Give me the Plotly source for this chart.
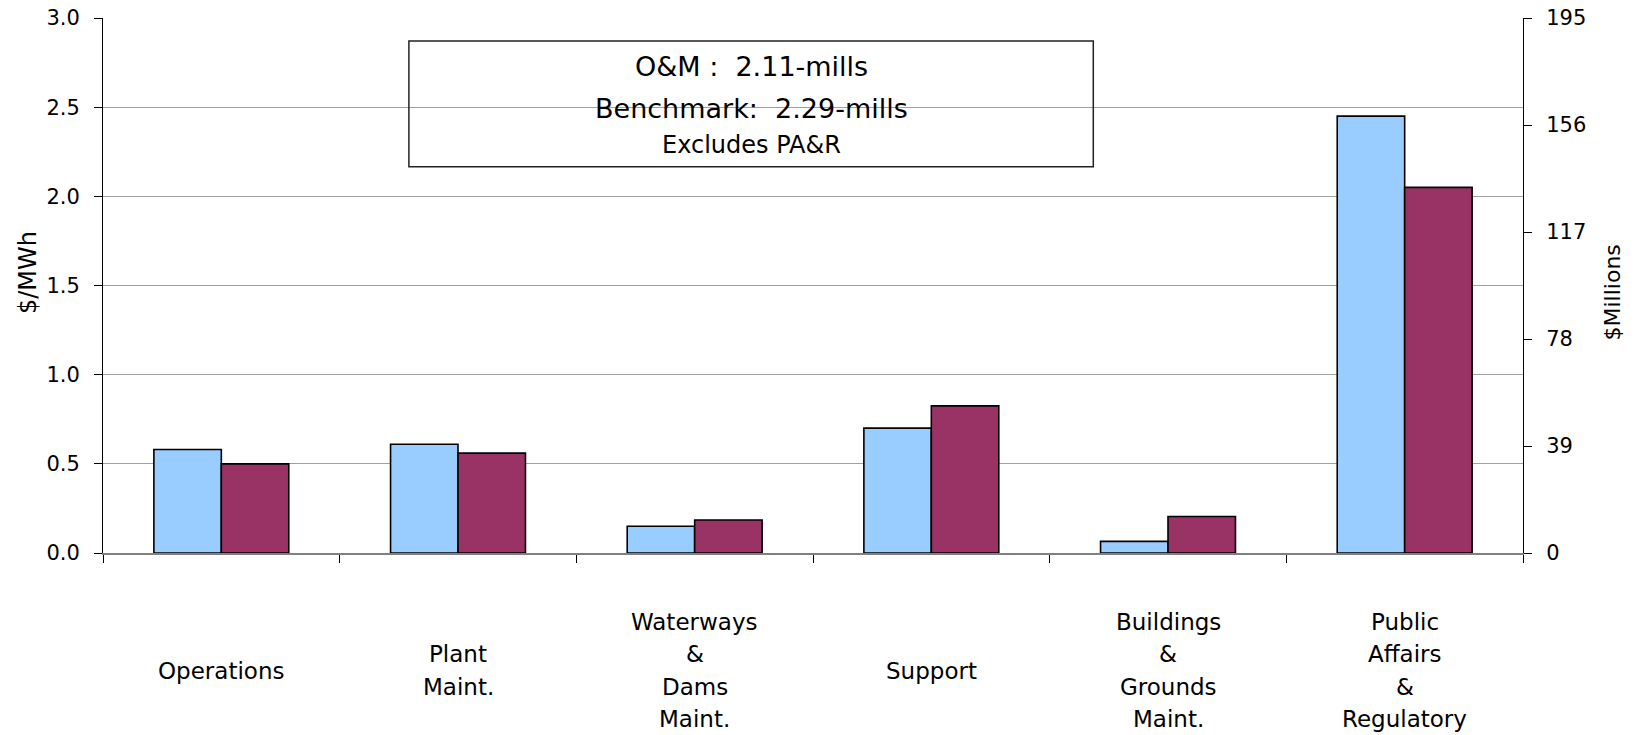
import plotly.graph_objects as go

# ---- data ----
categories = ["Operations", "Plant Maint.", "Waterways & Dams Maint.", "Support",
              "Buildings & Grounds Maint.", "Public Affairs & Regulatory"]
category_lines = [["Operations"], ["Plant", "Maint."], ["Waterways", "&", "Dams", "Maint."],
                  ["Support"], ["Buildings", "&", "Grounds", "Maint."],
                  ["Public", "Affairs", "&", "Regulatory"]]
series_a = [0.58, 0.61, 0.15, 0.70, 0.065, 2.45]
series_b = [0.50, 0.56, 0.185, 0.825, 0.205, 2.05]
left_ticks = [0.0, 0.5, 1.0, 1.5, 2.0, 2.5, 3.0]
right_ticks = [0, 39, 78, 117, 156, 195]
box_lines = ["O&amp;M :&nbsp;&nbsp;2.11-mills", "Benchmark:&nbsp;&nbsp;2.29-mills", "Excludes PA&amp;R"]

FONT = "DejaVu Sans"
W, H = 1639, 735
L, R, T, B = 103, 116, 18, 182
PW, PH = W - L - R, H - T - B

def px_x(x):
    return (x - L) / PW

def px_y(y):
    return (H - B - y) / PH

fig = go.Figure()
fig.add_trace(go.Bar(x=categories, y=series_a, marker=dict(color="#99CCFF", line=dict(color="black", width=1.6)),
                     showlegend=False))
fig.add_trace(go.Bar(x=categories, y=series_b, marker=dict(color="#993366", line=dict(color="black", width=1.6)),
                     showlegend=False))
# invisible trace for secondary axis
fig.add_trace(go.Scatter(x=[categories[0]], y=[0], yaxis="y2", mode="markers",
                         marker=dict(opacity=0), showlegend=False, hoverinfo="skip"))

annotations = []
# category labels
for cat, lines in zip(categories, category_lines):
    n = len(lines)
    for i, line in enumerate(lines):
        off = (i - (n - 1) / 2) * 32.4
        annotations.append(dict(x=cat, xref="x", y=0, yref="paper", yanchor="middle",
                                yshift=-(117.5 + off), text=line, showarrow=False,
                                font=dict(family=FONT, size=23, color="black")))
# box text
for txt, ypx, sz in zip(box_lines, [66.7, 108.3, 145.0], [27, 27, 24]):
    annotations.append(dict(x=(px_x(408.9) + px_x(1093.3)) / 2, xref="paper", y=px_y(ypx), yref="paper",
                            yanchor="middle", xanchor="center", text=txt, showarrow=False,
                            font=dict(family=FONT, size=sz, color="black")))
# axis titles
annotations.append(dict(x=px_x(28), xref="paper", y=px_y(273), yref="paper", text="$/MWh", textangle=-90,
                        showarrow=False, xanchor="center", yanchor="middle",
                        font=dict(family=FONT, size=24, color="black")))
annotations.append(dict(x=px_x(1612), xref="paper", y=px_y(292.5), yref="paper", text="$Millions", textangle=-90,
                        showarrow=False, xanchor="center", yanchor="middle",
                        font=dict(family=FONT, size=22, color="black")))

fig.update_layout(
    width=W, height=H,
    margin=dict(l=L, r=R, t=T, b=B, pad=0, autoexpand=False),
    paper_bgcolor="white", plot_bgcolor="white",
    barmode="group", bargap=0.43, bargroupgap=0,
    font=dict(family=FONT, size=21, color="black"),
    xaxis=dict(type="category", showticklabels=False, ticks="outside", tickson="boundaries",
               ticklen=8, tickcolor="black", tickwidth=1, showgrid=False, automargin=False,
               showline=True, linecolor="#808080", linewidth=2, zeroline=False),
    yaxis=dict(range=[0, 3], tickvals=left_ticks, ticktext=[f"{v:.1f}" for v in left_ticks],
               ticks="outside", ticklen=8, tickcolor="black", showline=True, linecolor="black",
               linewidth=1, showgrid=True, gridcolor="#A0A0A0", gridwidth=1, zeroline=False,
               automargin=False, ticklabelstandoff=10,
               tickfont=dict(family=FONT, size=21, color="black")),
    yaxis2=dict(range=[0, 195], tickvals=right_ticks, ticktext=[str(v) for v in right_ticks],
                overlaying="y", side="right", ticks="outside", ticklen=8, tickcolor="black",
                showline=True, linecolor="black", linewidth=1, showgrid=False, zeroline=False,
                automargin=False, ticklabelstandoff=10,
                tickfont=dict(family=FONT, size=21, color="black")),
    annotations=annotations,
    shapes=[dict(type="rect", xref="paper", yref="paper", x0=px_x(408.9), x1=px_x(1093.3),
                 y0=px_y(166.7), y1=px_y(41), line=dict(color="#222222", width=1.5),
                 fillcolor="rgba(0,0,0,0)", layer="above")],
)

fig.write_html("out.html", config={"displayModeBar": False},
               post_script="document.body.style.margin='0px';document.body.style.overflow='hidden';")
